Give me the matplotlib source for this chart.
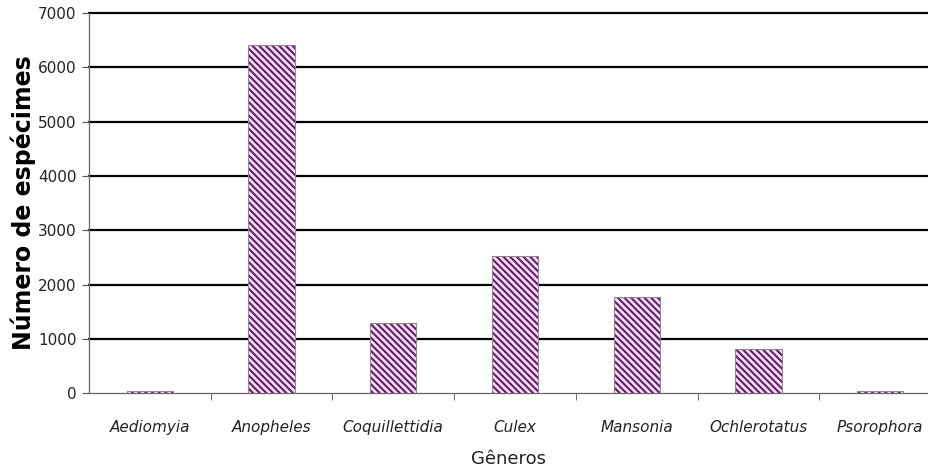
import numpy as np
import matplotlib
matplotlib.use('Agg')
import matplotlib.pyplot as plt

# counts per genus
generos = ['Aediomyia', 'Anopheles', 'Coquillettidia', 'Culex',
           'Mansonia', 'Ochlerotatus', 'Psorophora']
especimes = [50, 6410, 1290, 2530, 1770, 810, 50]
yticks = [0, 1000, 2000, 3000, 4000, 5000, 6000, 7000]

STRIPE = '#6a1a6e'
plt.rcParams['font.family'] = 'DejaVu Sans'
plt.rcParams['hatch.linewidth'] = 1.5

fig = plt.figure(figsize=(9.29, 4.74), dpi=100)
ax = fig.add_axes([89 / 929, 0.170, 852 / 929, 0.803])

x = np.arange(len(generos))
# striped fill, then a thin grey outline on top
ax.bar(x, especimes, width=0.38, color='#f5e0f5', edgecolor=STRIPE,
       hatch='\\\\\\\\\\', linewidth=0, zorder=3)
ax.bar(x, especimes, width=0.38, fill=False, edgecolor='#8a8a8a',
       linewidth=0.8, zorder=4)

for v in yticks[1:]:
    ax.axhline(v, color='black', lw=1.6, zorder=1, clip_on=False)

ax.set_xlim(-0.5, len(generos) - 0.5)
ax.set_ylim(0, 7000)
ax.set_yticks(yticks)
ax.set_yticklabels([str(v) for v in yticks], fontsize=11, color='#222222')

ax.set_xticks(x)
ax.set_xticklabels(generos, fontsize=11, style='italic', color='#222222')
ax.tick_params(axis='x', length=0, pad=19)
ax.set_xticks(np.arange(len(generos) - 1) + 0.5, minor=True)
ax.tick_params(axis='x', which='minor', length=5, color='#555555', direction='out')
ax.tick_params(axis='y', length=5, color='#555555', pad=4)

for side in ['top', 'right']:
    ax.spines[side].set_visible(False)
for side in ['left', 'bottom']:
    ax.spines[side].set_color('#666666')
    ax.spines[side].set_linewidth(0.9)

ax.set_xlabel('Gêneros', fontsize=13, color='#222222')
ax.xaxis.set_label_coords(0.492, -0.148)
ax.set_ylabel('Número de espécimes', fontsize=17, fontweight='heavy')
ax.yaxis.set_label_coords(-0.062, 0.5)

fig.savefig('out.png', dpi=100)
